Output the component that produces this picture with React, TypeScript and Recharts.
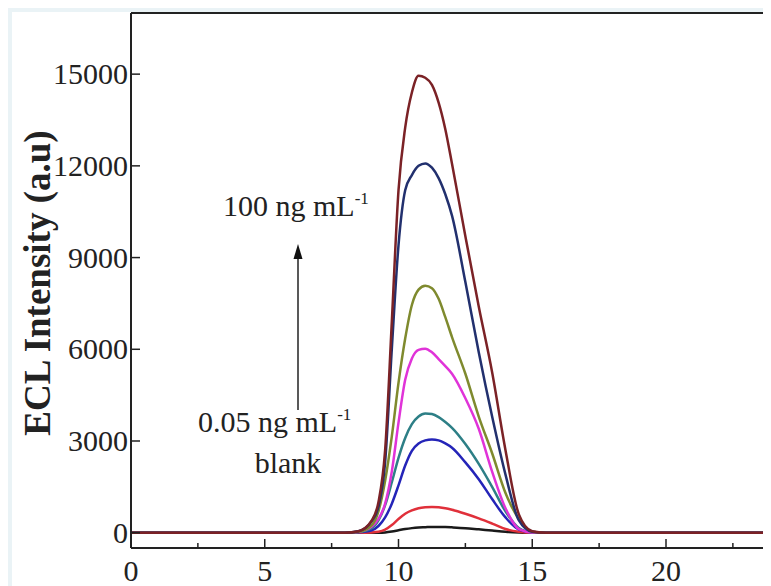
import { LineChart, Line, XAxis, YAxis, ReferenceLine, Customized } from 'recharts'

// retention time (s) grid shared by all traces
const times = [0, 8, 8.5, 9, 9.25, 9.5, 9.75, 10, 10.25, 10.5, 10.75, 11, 11.25, 11.5, 11.75, 12, 12.5, 13, 13.5, 14, 14.5, 15, 15.5, 23.7]

const blank = [0, 0, 0, 0, 0, 10, 40, 80, 120, 150, 170, 180, 190, 190, 185, 175, 150, 110, 70, 30, 10, 0, 0, 0]
const c005 = [0, 0, 0, 10, 30, 100, 250, 450, 620, 730, 800, 830, 840, 830, 800, 750, 620, 470, 300, 120, 30, 0, 0, 0]
const c2 = [0, 0, 15, 80, 220, 500, 950, 1550, 2200, 2680, 2920, 3020, 3050, 3020, 2920, 2780, 2300, 1750, 1100, 500, 100, 10, 0, 0]
const c3 = [0, 0, 20, 150, 400, 900, 1650, 2450, 3100, 3550, 3800, 3900, 3880, 3780, 3620, 3430, 2900, 2250, 1500, 700, 150, 10, 0, 0]
const c4 = [0, 0, 30, 200, 450, 950, 2000, 3600, 5000, 5700, 5980, 6020, 5900, 5680, 5450, 5200, 4400, 3400, 2000, 800, 120, 10, 0, 0]
const c5 = [0, 0, 30, 250, 700, 1700, 3150, 4900, 6350, 7450, 7950, 8080, 8000, 7650, 7050, 6400, 5200, 3800, 2600, 1300, 450, 30, 0, 0]
const c6 = [0, 0, 50, 380, 850, 2300, 6000, 9400, 11200, 11700, 12000, 12080, 11940, 11600, 11070, 10370, 8200, 5900, 3800, 1900, 400, 30, 0, 0]
const c100 = [0, 0, 50, 400, 1000, 2700, 6900, 11200, 13250, 14400, 14950, 14880, 14650, 14070, 13200, 12070, 9700, 7400, 5250, 2700, 600, 50, 0, 0]

const seriesKeys = ['blank', 'c005', 'c2', 'c3', 'c4', 'c5', 'c6', 'c100']
const seriesColors = ['#1a1a1a', '#e0303a', '#2424b8', '#2d7f86', '#e033d8', '#7f8a2e', '#22306e', '#7b2226']
const seriesValues = [blank, c005, c2, c3, c4, c5, c6, c100]

const xTicks = [0, 2.5, 5, 7.5, 10, 12.5, 15, 17.5, 20, 22.5]
const yTicks = [0, 3000, 6000, 9000, 12000, 15000]

const data = times.map((t, i) => {
  const row: Record<string, number> = { t }
  seriesKeys.forEach((k, j) => (row[k] = seriesValues[j][i]))
  return row
})

const font = 'Liberation Serif'

function XTick({ x, y, payload }: any) {
  const major = payload.value % 5 === 0
  return (
    <g>
      <line x1={x} x2={x} y1={y} y2={y - (major ? 9 : 5)} stroke="#222" strokeWidth={1.5} />
      {major && (
        <text x={x} y={y + 33} textAnchor="middle" fontSize={30} fontFamily={font} fill="#222">
          {payload.value}
        </text>
      )}
    </g>
  )
}

function YTick({ x, y, payload }: any) {
  return (
    <g>
      <line x1={x} x2={x + 9} y1={y} y2={y} stroke="#222" strokeWidth={1.5} />
      <text x={x - 3} y={y + 10} textAnchor="end" fontSize={30} fontFamily={font} fill="#222">
        {payload.value}
      </text>
    </g>
  )
}

function Notes() {
  return (
    <g fontFamily={font} fill="#222">
      <text x={37} y={283} transform="rotate(-90 37 283)" textAnchor="middle" dominantBaseline="central" fontSize={37} fontWeight="bold">
        ECL Intensity (a.u)
      </text>
      <text x={223} y={216} fontSize={30}>
        100 ng mL<tspan dy={-12} fontSize={17}>-1</tspan>
      </text>
      <line x1={298} x2={298} y1={410} y2={256} stroke="#222" strokeWidth={1.5} />
      <polygon points="298,244 293.5,259 302.5,259" fill="#111" />
      <text x={198} y={432} fontSize={30}>
        0.05 ng mL<tspan dy={-12} fontSize={17}>-1</tspan>
      </text>
      <text x={288} y={473} fontSize={30} textAnchor="middle">
        blank
      </text>
    </g>
  )
}

export default function App() {
  return (
    <div style={{ position: 'relative', width: 771, height: 586, margin: '-8px 0 0 -8px', overflow: 'hidden', background: '#eaf3f6' }}>
      <div style={{ position: 'absolute', left: 12, top: 12, right: 0, bottom: 0, background: '#fff' }} />
      <div style={{ position: 'absolute', left: 0, top: 0 }}>
        <LineChart width={780} height={586} data={data} margin={{ top: 13, right: 7, bottom: 8, left: 0 }}>
          <XAxis
            dataKey="t"
            type="number"
            domain={[0, 24]}
            ticks={xTicks}
            height={30}
            tickSize={0}
            tickMargin={0}
            tickLine={false}
            axisLine={{ stroke: '#222', strokeWidth: 2 }}
            tick={(p: any) => <XTick {...p} />}
            allowDataOverflow
          />
          <YAxis
            type="number"
            domain={[-500, 17000]}
            ticks={yTicks}
            width={131}
            tickSize={0}
            tickMargin={0}
            tickLine={false}
            axisLine={{ stroke: '#222', strokeWidth: 2 }}
            tick={(p: any) => <YTick {...p} />}
            allowDataOverflow
          />
          <ReferenceLine y={17000} stroke="#222" strokeWidth={2} />
          {seriesKeys.map((k, i) => (
            <Line
              key={k}
              dataKey={k}
              type="monotone"
              stroke={seriesColors[i]}
              strokeWidth={2.5}
              dot={false}
              isAnimationActive={false}
            />
          ))}
          <Customized component={Notes} />
        </LineChart>
      </div>
    </div>
  )
}
